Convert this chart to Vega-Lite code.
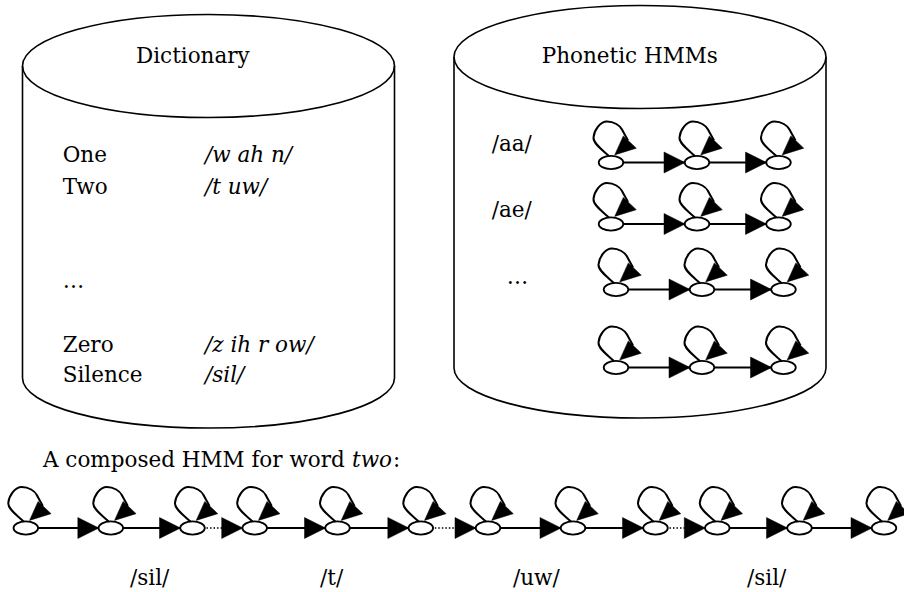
{
  "$schema": "https://vega.github.io/schema/vega-lite/v6.json",
  "width": 904,
  "height": 592,
  "autosize": {"type": "none"},
  "padding": 0,
  "background": "white",
  "config": {"view": {"stroke": null}, "font": "DejaVu Serif", "text": {"font": "DejaVu Serif"}},
  "datasets": {
    "cylTop": [{"name": "Dictionary", "x": 208.5, "y": 66}, {"name": "Phonetic HMMs", "x": 640, "y": 57}],
    "cylBottom": [{"name": "Dictionary", "x": 208.5, "y": 378}, {"name": "Phonetic HMMs", "x": 640, "y": 368}],
    "cylSides": [
      {"x": 22.5, "y": 66, "y2": 378}, {"x": 394.5, "y": 66, "y2": 378},
      {"x": 454, "y": 57, "y2": 368}, {"x": 826, "y": 57, "y2": 368}
    ],
    "labels": [
      {"text": "Dictionary", "x": 136, "y": 63, "style": "normal"},
      {"text": "One", "x": 62.7, "y": 161.7, "style": "normal"},
      {"text": "Two", "x": 62.7, "y": 194, "style": "normal"},
      {"text": "…", "x": 62.7, "y": 288, "style": "normal"},
      {"text": "Zero", "x": 62.7, "y": 351.7, "style": "normal"},
      {"text": "Silence", "x": 62.7, "y": 381.7, "style": "normal"},
      {"text": "/w ah n/", "x": 205, "y": 161.7, "style": "italic"},
      {"text": "/t uw/", "x": 205, "y": 194, "style": "italic"},
      {"text": "/z ih r ow/", "x": 205, "y": 351.7, "style": "italic"},
      {"text": "/sil/", "x": 205, "y": 381.7, "style": "italic"},
      {"text": "Phonetic HMMs", "x": 541.7, "y": 63.3, "style": "normal"},
      {"text": "/aa/", "x": 491.7, "y": 150.7, "style": "normal"},
      {"text": "/ae/", "x": 491.7, "y": 216.7, "style": "normal"},
      {"text": "…", "x": 506.7, "y": 283.5, "style": "normal"},
      {"text": "A composed HMM for word", "x": 43, "y": 467, "style": "normal"},
      {"text": "two", "x": 352, "y": 467, "style": "italic"},
      {"text": ":", "x": 393, "y": 467, "style": "normal"},
      {"text": "/sil/", "x": 130, "y": 585, "style": "normal"},
      {"text": "/t/", "x": 320, "y": 585, "style": "normal"},
      {"text": "/uw/", "x": 513, "y": 585, "style": "normal"},
      {"text": "/sil/", "x": 747, "y": 585, "style": "normal"}
    ],
    "nodes": [
      {"x": 611, "y": 162.5}, {"x": 697, "y": 162.5}, {"x": 778.5, "y": 162.5},
      {"x": 611, "y": 224}, {"x": 697, "y": 224}, {"x": 778.5, "y": 224},
      {"x": 616, "y": 289.5}, {"x": 702, "y": 289.5}, {"x": 783.5, "y": 289.5},
      {"x": 616, "y": 367.5}, {"x": 702, "y": 367.5}, {"x": 783.5, "y": 367.5},
      {"x": 25.8, "y": 528}, {"x": 110.8, "y": 528}, {"x": 192.5, "y": 528},
      {"x": 254.7, "y": 528}, {"x": 337.5, "y": 528}, {"x": 420.8, "y": 528},
      {"x": 488, "y": 528}, {"x": 573, "y": 528}, {"x": 655.5, "y": 528},
      {"x": 717.3, "y": 528}, {"x": 799.5, "y": 528}, {"x": 884, "y": 528}
    ],
    "edges": [
      {"x": 611, "x2": 697, "y": 162.5, "kind": "solid"}, {"x": 697, "x2": 778.5, "y": 162.5, "kind": "solid"},
      {"x": 611, "x2": 697, "y": 224, "kind": "solid"}, {"x": 697, "x2": 778.5, "y": 224, "kind": "solid"},
      {"x": 616, "x2": 702, "y": 289.5, "kind": "solid"}, {"x": 702, "x2": 783.5, "y": 289.5, "kind": "solid"},
      {"x": 616, "x2": 702, "y": 367.5, "kind": "solid"}, {"x": 702, "x2": 783.5, "y": 367.5, "kind": "solid"},
      {"x": 25.8, "x2": 110.8, "y": 528, "kind": "solid"},
      {"x": 110.8, "x2": 192.5, "y": 528, "kind": "solid"},
      {"x": 192.5, "x2": 254.7, "y": 528, "kind": "dotted"},
      {"x": 254.7, "x2": 337.5, "y": 528, "kind": "solid"},
      {"x": 337.5, "x2": 420.8, "y": 528, "kind": "solid"},
      {"x": 420.8, "x2": 488, "y": 528, "kind": "dotted"},
      {"x": 488, "x2": 573, "y": 528, "kind": "solid"},
      {"x": 573, "x2": 655.5, "y": 528, "kind": "solid"},
      {"x": 655.5, "x2": 717.3, "y": 528, "kind": "dotted"},
      {"x": 717.3, "x2": 799.5, "y": 528, "kind": "solid"},
      {"x": 799.5, "x2": 884, "y": 528, "kind": "solid"}
    ]
  },
  "layer": [
    {
      "data": {"name": "cylTop"},
      "mark": {"type": "point", "shape": "M-186,0 A186,51.5 0 1 1 186,0 A186,51.5 0 1 1 -186,0 Z", "size": 4, "filled": false, "stroke": "black", "strokeWidth": 1.6, "opacity": 1},
      "encoding": {
        "x": {"field": "x", "type": "quantitative", "scale": {"domain": [0, 904], "nice": false, "zero": false}, "axis": null},
        "y": {"field": "y", "type": "quantitative", "scale": {"domain": [0, 592], "nice": false, "zero": false, "reverse": true}, "axis": null}
      }
    },
    {
      "data": {"name": "cylBottom"},
      "mark": {"type": "point", "shape": "M-186,0 A186,50 0 0 0 186,0", "size": 4, "filled": false, "stroke": "black", "strokeWidth": 1.6, "opacity": 1},
      "encoding": {
        "x": {"field": "x", "type": "quantitative", "scale": {"domain": [0, 904], "nice": false, "zero": false}, "axis": null},
        "y": {"field": "y", "type": "quantitative", "scale": {"domain": [0, 592], "nice": false, "zero": false, "reverse": true}, "axis": null}
      }
    },
    {
      "data": {"name": "cylSides"},
      "mark": {"type": "rule", "stroke": "black", "strokeWidth": 1.6},
      "encoding": {
        "x": {"field": "x", "type": "quantitative", "scale": {"domain": [0, 904], "nice": false, "zero": false}, "axis": null},
        "y": {"field": "y", "type": "quantitative", "scale": {"domain": [0, 592], "nice": false, "zero": false, "reverse": true}, "axis": null},
        "y2": {"field": "y2"}
      }
    },
    {
      "data": {"name": "labels"},
      "transform": [{"filter": "datum.style == 'normal'"}],
      "mark": {"type": "text", "align": "left", "baseline": "alphabetic", "font": "DejaVu Serif", "fontSize": 21.5, "color": "black"},
      "encoding": {
        "x": {"field": "x", "type": "quantitative", "scale": {"domain": [0, 904], "nice": false, "zero": false}, "axis": null},
        "y": {"field": "y", "type": "quantitative", "scale": {"domain": [0, 592], "nice": false, "zero": false, "reverse": true}, "axis": null},
        "text": {"field": "text"}
      }
    },
    {
      "data": {"name": "labels"},
      "transform": [{"filter": "datum.style == 'italic'"}],
      "mark": {"type": "text", "align": "left", "baseline": "alphabetic", "font": "DejaVu Serif", "fontStyle": "italic", "fontSize": 21.5, "color": "black"},
      "encoding": {
        "x": {"field": "x", "type": "quantitative", "scale": {"domain": [0, 904], "nice": false, "zero": false}, "axis": null},
        "y": {"field": "y", "type": "quantitative", "scale": {"domain": [0, 592], "nice": false, "zero": false, "reverse": true}, "axis": null},
        "text": {"field": "text"}
      }
    },
    {
      "data": {"name": "edges"},
      "transform": [{"filter": "datum.kind == 'solid'"}],
      "mark": {"type": "rule", "stroke": "black", "strokeWidth": 2},
      "encoding": {
        "x": {"field": "x", "type": "quantitative", "scale": {"domain": [0, 904], "nice": false, "zero": false}, "axis": null},
        "x2": {"field": "x2"},
        "y": {"field": "y", "type": "quantitative", "scale": {"domain": [0, 592], "nice": false, "zero": false, "reverse": true}, "axis": null}
      }
    },
    {
      "data": {"name": "edges"},
      "transform": [{"filter": "datum.kind == 'dotted'"}],
      "mark": {"type": "rule", "stroke": "black", "strokeWidth": 1.5, "strokeDash": [1.5, 2]},
      "encoding": {
        "x": {"field": "x", "type": "quantitative", "scale": {"domain": [0, 904], "nice": false, "zero": false}, "axis": null},
        "x2": {"field": "x2"},
        "y": {"field": "y", "type": "quantitative", "scale": {"domain": [0, 592], "nice": false, "zero": false, "reverse": true}, "axis": null}
      }
    },
    {
      "data": {"name": "edges"},
      "mark": {"type": "point", "shape": "M-12,0 L-33,-10.5 L-33,10.5 Z", "size": 4, "filled": true, "fill": "black", "stroke": "black", "strokeWidth": 0.5, "opacity": 1},
      "encoding": {
        "x": {"field": "x2", "type": "quantitative", "scale": {"domain": [0, 904], "nice": false, "zero": false}, "axis": null},
        "y": {"field": "y", "type": "quantitative", "scale": {"domain": [0, 592], "nice": false, "zero": false, "reverse": true}, "axis": null}
      }
    },
    {
      "data": {"name": "nodes"},
      "mark": {"type": "point", "shape": "M-12.3,0 A12.3,6.6 0 1 1 12.3,0 A12.3,6.6 0 1 1 -12.3,0 Z", "size": 4, "filled": true, "fill": "white", "stroke": "black", "strokeWidth": 1.8, "opacity": 1},
      "encoding": {
        "x": {"field": "x", "type": "quantitative", "scale": {"domain": [0, 904], "nice": false, "zero": false}, "axis": null},
        "y": {"field": "y", "type": "quantitative", "scale": {"domain": [0, 592], "nice": false, "zero": false, "reverse": true}, "axis": null}
      }
    },
    {
      "data": {"name": "nodes"},
      "mark": {"type": "point", "shape": "M-2,-6.5 C-8,-12 -18,-19 -17.5,-25 C-17,-32 -11,-41 -4,-41 C3,-41 9,-37 11,-33 C13,-29 15,-26 17,-22", "size": 4, "filled": false, "stroke": "black", "strokeWidth": 2, "opacity": 1},
      "encoding": {
        "x": {"field": "x", "type": "quantitative", "scale": {"domain": [0, 904], "nice": false, "zero": false}, "axis": null},
        "y": {"field": "y", "type": "quantitative", "scale": {"domain": [0, 592], "nice": false, "zero": false, "reverse": true}, "axis": null}
      }
    },
    {
      "data": {"name": "nodes"},
      "mark": {"type": "point", "shape": "M12.3,-26.6 L25.3,-14.3 L3.7,-7.6 Z", "size": 4, "filled": true, "fill": "black", "stroke": "black", "strokeWidth": 0.5, "opacity": 1},
      "encoding": {
        "x": {"field": "x", "type": "quantitative", "scale": {"domain": [0, 904], "nice": false, "zero": false}, "axis": null},
        "y": {"field": "y", "type": "quantitative", "scale": {"domain": [0, 592], "nice": false, "zero": false, "reverse": true}, "axis": null}
      }
    }
  ]
}
